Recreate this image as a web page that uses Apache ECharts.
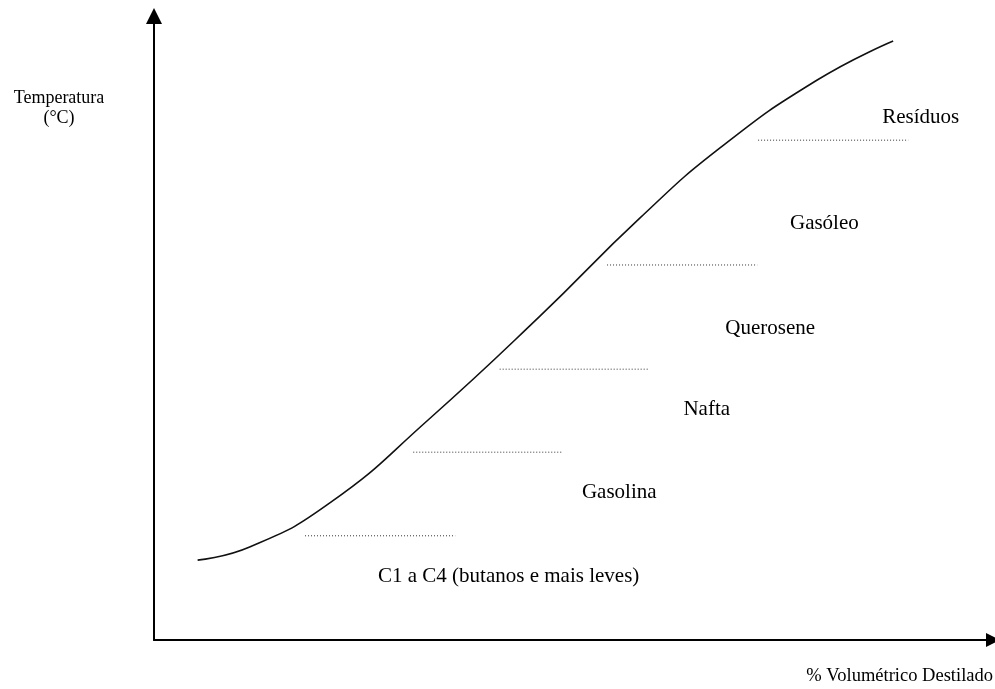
<!DOCTYPE html>
<html>
<head>
<meta charset="utf-8">
<title>Curva de destilação</title>
<script src="https://cdn.jsdelivr.net/npm/echarts@6/dist/echarts.min.js"></script>
<style>
    html, body { margin: 0; padding: 0; background: #fff; }
    #chart { width: 995px; height: 689px; }
</style>
</head>
<body>
<div id="chart"></div>
<script>
// curva: % volumetrico destilado x temperatura (escala relativa 0-100)
var curveX = [5.2, 11.4, 21.0, 32.7, 46.0, 57.9, 67.5, 79.0, 88.1];
var curveY = [12.8, 14.9, 22.0, 35.3, 51.9, 67.6, 78.9, 89.7, 96.0];

// cortes (linhas pontilhadas): inicio, fim, nivel
var cutStart = [18.0, 30.9, 41.2, 54.0, 72.0];
var cutEnd   = [35.9, 48.7, 59.0, 71.9, 89.9];
var cutLevel = [16.7, 30.1, 43.4, 60.1, 80.1];

// fracoes
var fractions = ['C1 a C4 (butanos e mais leves)', 'Gasolina', 'Nafta', 'Querosene', 'Gasóleo', 'Resíduos'];
var fracX = [26.7, 51.0, 63.1, 68.1, 75.8, 86.8];
var fracY = [10.1, 23.6, 36.9, 50.0, 66.8, 83.8];

var xName = '% Volumétrico Destilado';
var yName = 'Temperatura\n(°C)';

var serif = '"Liberation Serif", "Times New Roman", serif';

function axis(arrow) {
    return {
        type: 'value',
        min: 0,
        max: 100,
        axisLine: {
            show: true,
            onZero: false,
            symbol: ['none', 'triangle'],
            symbolSize: arrow,
            lineStyle: { color: '#000', width: 2 }
        },
        axisTick: { show: false },
        axisLabel: { show: false },
        splitLine: { show: false }
    };
}

var series = [];

series.push({
    name: 'curva',
    type: 'line',
    smooth: 0.5,
    symbol: 'none',
    data: curveX.map(function (x, i) { return [x, curveY[i]]; }),
    lineStyle: { color: '#111', width: 1.6 },
    silent: true,
    z: 3
});

for (var i = 0; i < cutLevel.length; i++) {
    series.push({
        name: 'corte' + i,
        type: 'line',
        symbol: 'none',
        data: [[cutStart[i], cutLevel[i]], [cutEnd[i], cutLevel[i]]],
        lineStyle: { color: '#333', width: 1, type: [1, 2] },
        silent: true,
        z: 2
    });
}

series.push({
    name: 'fracoes',
    type: 'scatter',
    symbolSize: 0,
    itemStyle: { opacity: 1 },
    data: fractions.map(function (f, i) { return { value: [fracX[i], fracY[i]], name: f }; }),
    label: {
        show: true,
        position: 'right',
        distance: 0,
        formatter: '{b}',
        color: '#000',
        opacity: 1,
        fontFamily: serif,
        fontSize: 21
    },
    silent: true
});

var myChart = echarts.init(document.getElementById('chart'));
myChart.setOption({
    animation: false,
    backgroundColor: '#fff',
    grid: { left: 154, right: 2, top: 16, bottom: 49 },
    xAxis: axis([14, 14]),
    yAxis: axis([16, 16]),
    graphic: [
        {
            type: 'text',
            style: {
                x: 59, y: 88,
                text: yName,
                align: 'center',
                fill: '#000',
                font: '18px ' + serif,
                lineHeight: 20
            }
        },
        {
            type: 'text',
            style: {
                x: 993, y: 667,
                text: xName,
                align: 'right',
                fill: '#000',
                font: '18.5px ' + serif
            }
        }
    ],
    series: series
});

window.addEventListener('resize', function () {
    myChart.resize();
});
</script>
</body>
</html>
